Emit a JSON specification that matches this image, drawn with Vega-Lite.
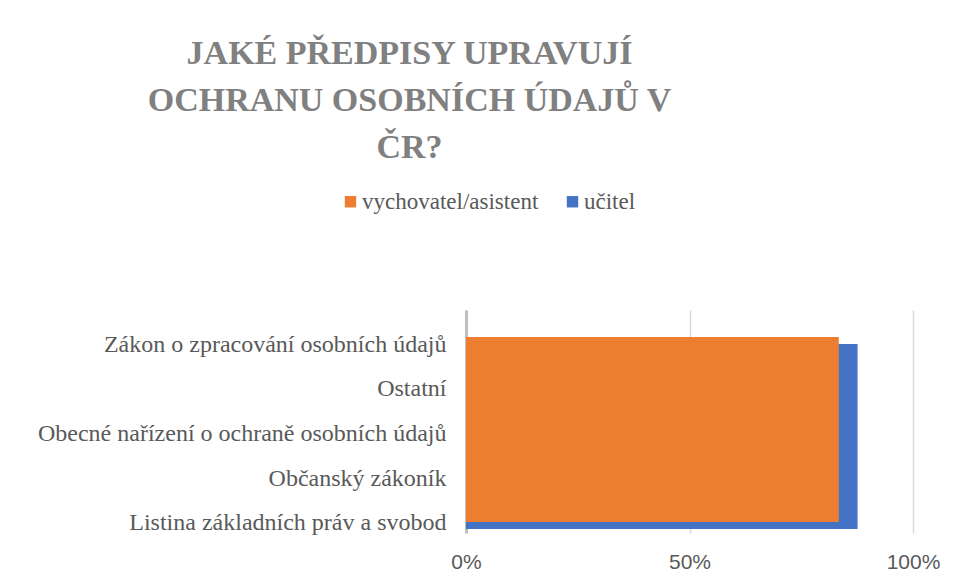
{
  "$schema": "https://vega.github.io/schema/vega-lite/v6.json",
  "width": 447,
  "height": 223,
  "autosize": "none",
  "padding": {"left": 466, "top": 310, "right": 43, "bottom": 47},
  "background": "white",
  "title": {
    "text": ["JAKÉ PŘEDPISY UPRAVUJÍ", "OCHRANU OSOBNÍCH ÚDAJŮ V", "ČR?"],
    "font": "Liberation Serif",
    "fontSize": 34,
    "fontWeight": "bold",
    "color": "#808080",
    "anchor": "middle",
    "align": "center",
    "frame": "group",
    "dx": -280,
    "lineHeight": 47,
    "offset": 25
  },
  "data": {
    "values": [
      {"predpis": "Zákon o zpracování osobních údajů", "skupina": "učitel", "podil": 0.876},
      {"predpis": "Ostatní", "skupina": "učitel", "podil": 0.876},
      {"predpis": "Obecné nařízení o ochraně osobních údajů", "skupina": "učitel", "podil": 0.876},
      {"predpis": "Občanský zákoník", "skupina": "učitel", "podil": 0.876},
      {"predpis": "Listina základních práv a svobod", "skupina": "učitel", "podil": 0.876},
      {"predpis": "Zákon o zpracování osobních údajů", "skupina": "vychovatel/asistent", "podil": 0.834},
      {"predpis": "Ostatní", "skupina": "vychovatel/asistent", "podil": 0.834},
      {"predpis": "Obecné nařízení o ochraně osobních údajů", "skupina": "vychovatel/asistent", "podil": 0.834},
      {"predpis": "Občanský zákoník", "skupina": "vychovatel/asistent", "podil": 0.834},
      {"predpis": "Listina základních práv a svobod", "skupina": "vychovatel/asistent", "podil": 0.834}
    ]
  },
  "layer": [
    {
      "mark": {"type": "point", "opacity": 0},
      "encoding": {
        "x": {"field": "podil", "type": "quantitative"},
        "y": {
          "field": "predpis",
          "type": "nominal",
          "sort": ["Zákon o zpracování osobních údajů", "Ostatní", "Obecné nařízení o ochraně osobních údajů", "Občanský zákoník", "Listina základních práv a svobod"],
          "scale": {"paddingInner": 0, "paddingOuter": 0},
          "axis": {
            "title": null,
            "ticks": false,
            "domain": true,
            "domainColor": "#bfbfbf",
            "domainWidth": 3,
            "labelFont": "Liberation Serif",
            "labelFontSize": 24,
            "labelColor": "#595959",
            "labelPadding": 20,
            "labelOffset": 12,
            "labelLimit": 600,
            "grid": false
          }
        }
      }
    },
    {
      "transform": [{"filter": "datum.skupina === 'učitel'"}],
      "mark": {"type": "bar"},
      "encoding": {
        "x": {"field": "podil", "type": "quantitative"},
        "y": {
          "field": "predpis",
          "type": "nominal",
          "sort": ["Zákon o zpracování osobních údajů", "Ostatní", "Obecné nařízení o ochraně osobních údajů", "Občanský zákoník", "Listina základních práv a svobod"],
          "scale": {"paddingInner": 0, "paddingOuter": 0.5135, "align": 0.895},
          "axis": null
        },
        "color": {"field": "skupina", "type": "nominal"}
      }
    },
    {
      "transform": [{"filter": "datum.skupina === 'vychovatel/asistent'"}],
      "mark": {"type": "bar"},
      "encoding": {
        "x": {
          "field": "podil",
          "type": "quantitative",
          "scale": {"domain": [0, 1], "nice": false},
          "axis": {
            "title": null,
            "values": [0, 0.5, 1],
            "format": "%",
            "grid": true,
            "gridColor": "#d9d9d9",
            "gridWidth": 1.5,
            "domain": false,
            "ticks": false,
            "labelFlush": false,
            "labelFont": "Liberation Sans",
            "labelFontSize": 21,
            "labelColor": "#595959",
            "labelPadding": 18
          }
        },
        "y": {
          "field": "predpis",
          "type": "nominal",
          "sort": ["Zákon o zpracování osobních údajů", "Ostatní", "Obecné nařízení o ochraně osobních údajů", "Občanský zákoník", "Listina základních práv a svobod"],
          "scale": {"paddingInner": 0, "paddingOuter": 0.5135, "align": 0.71},
          "axis": null
        },
        "color": {
          "field": "skupina",
          "type": "nominal",
          "scale": {"domain": ["vychovatel/asistent", "učitel"], "range": ["#ed7d31", "#4472c4"]},
          "legend": {
            "title": null,
            "orient": "none",
            "direction": "horizontal",
            "legendX": -127,
            "legendY": -120,
            "symbolType": "square",
            "symbolSize": 130,
            "symbolStrokeWidth": 0,
            "labelFont": "Liberation Serif",
            "labelFontSize": 23,
            "labelLimit": 400,
            "labelColor": "#595959",
            "columnPadding": 22,
            "labelOffset": 0
          }
        }
      }
    }
  ],
  "resolve": {"scale": {"y": "independent"}, "axis": {"y": "independent"}},
  "config": {"view": {"stroke": null}}
}
